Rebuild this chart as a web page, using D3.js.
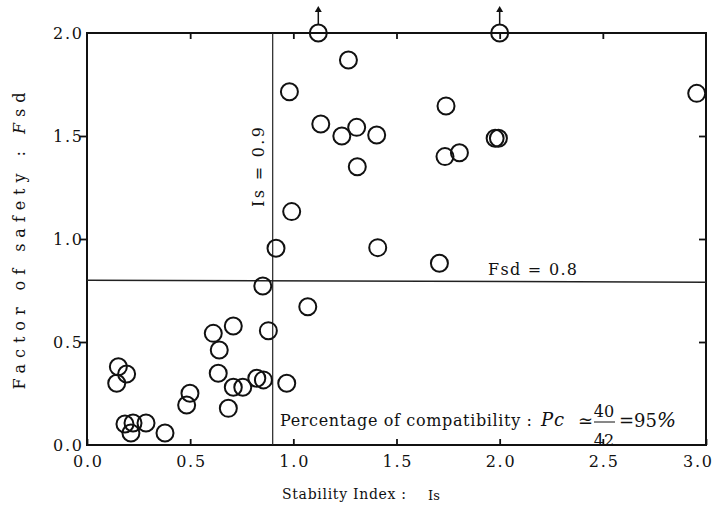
<!DOCTYPE html>
<html><head><meta charset="utf-8">
<script src="https://cdn.jsdelivr.net/npm/d3@7/dist/d3.min.js"></script>
<style>
html,body{margin:0;padding:0;background:#fff;}
svg{display:block;}
text{font-family:"DejaVu Serif","Liberation Serif",serif;fill:#111;}
</style></head>
<body>
<svg id="chart" width="717" height="507"></svg>
<script>
// Stability index Is (x) and factor of safety Fsd (y) for 42 cases
const isValues = [0.152,0.192,0.144,0.499,0.483,0.184,0.223,0.213,0.286,0.378,
  0.612,0.709,0.641,0.879,0.636,0.709,0.755,0.823,0.855,0.968,0.685,
  0.992,0.916,1.409,0.852,1.070,
  1.121,1.267,0.981,1.133,1.235,1.307,1.404,1.310,
  1.740,1.735,1.805,1.978,1.994,2.000,2.955,1.708];
const fsdValues = [0.380,0.345,0.300,0.251,0.194,0.102,0.107,0.058,0.107,0.058,
  0.542,0.578,0.461,0.555,0.348,0.280,0.280,0.324,0.316,0.300,0.178,
  1.133,0.955,0.958,0.772,0.671,
  2.000,1.869,1.715,1.558,1.500,1.542,1.505,1.351,
  1.646,1.400,1.419,1.489,1.489,2.000,1.707,0.882];
// points off the scale (value above 2.0, drawn with arrow)
const offScale = [false,false,false,false,false,false,false,false,false,false,
  false,false,false,false,false,false,false,false,false,false,false,
  false,false,false,false,false,
  true,false,false,false,false,false,false,false,
  false,false,false,false,false,true,false,false];
const xTicks = [0.0,0.5,1.0,1.5,2.0,2.5,3.0];
const yTicks = [0.0,0.5,1.0,1.5,2.0];
const isThreshold = 0.9;
const fsdThreshold = 0.8;

const svg = d3.select("#chart");
const x = d3.scaleLinear().domain([0,3]).range([87,706]);
const y = d3.scaleLinear().domain([0,2]).range([445,33]);
const fmt = d3.format(".1f");

// bottom axis: inward ticks + labels
const gB = svg.append("g").attr("transform",`translate(0,${y(0)})`)
  .call(d3.axisBottom(x).tickValues(xTicks).tickFormat(fmt).tickSizeInner(-6).tickSizeOuter(0).tickPadding(11));
// top axis: inward ticks, no labels
const gT = svg.append("g").attr("transform",`translate(0,${y(2)})`)
  .call(d3.axisTop(x).tickValues(xTicks.slice(1,-1)).tickFormat("").tickSizeInner(-6).tickSizeOuter(0));
// left axis: outward ticks + labels
const gL = svg.append("g").attr("transform",`translate(${x(0)},0)`)
  .call(d3.axisLeft(y).tickValues(yTicks).tickFormat(fmt).tickSizeOuter(0).tickSizeInner(0).tickPadding(5));
gL.selectAll(".tick").filter(d=>d>0&&d<2).append("line").attr("x2",-7).attr("stroke","#111").attr("stroke-width",2);
// right axis: inward ticks
const gR = svg.append("g").attr("transform",`translate(${x(3)},0)`)
  .call(d3.axisRight(y).tickValues(yTicks.slice(1,-1)).tickFormat("").tickSizeInner(-7).tickSizeOuter(0));

[gB,gT,gL,gR].forEach(g=>{
  g.select(".domain").remove();
  g.selectAll(".tick line").attr("stroke","#111").attr("stroke-width",1.8);
  g.selectAll(".tick text").attr("font-size",16).attr("textLength",29).attr("lengthAdjust","spacing").attr("fill","#111");
});
gL.selectAll(".tick text").attr("dy","0.35em");
gB.selectAll(".tick text").filter(d=>d===3).attr("dx",-9);

// frame
svg.append("rect").attr("x",x(0)).attr("y",y(2)).attr("width",x(3)-x(0)).attr("height",y(0)-y(2))
  .attr("fill","none").attr("stroke","#111").attr("stroke-width",2);

// threshold lines
svg.append("line").attr("x1",x(isThreshold)).attr("x2",x(isThreshold)).attr("y1",y(2)).attr("y2",y(0))
  .attr("stroke","#222").attr("stroke-width",1.2);
svg.append("line").attr("x1",x(0)).attr("x2",x(3)).attr("y1",y(fsdThreshold)).attr("y2",y(fsdThreshold)+2)
  .attr("stroke","#222").attr("stroke-width",1.4);

// points
const pts = isValues.map((v,i)=>({x:v,y:fsdValues[i],off:offScale[i]}));
svg.append("g").selectAll("circle").data(pts).join("circle")
  .attr("cx",d=>x(d.x)).attr("cy",d=>y(d.y)).attr("r",8.5)
  .attr("fill","none").attr("stroke","#111").attr("stroke-width",2);

// arrows for off-scale points
const arr = svg.append("g");
pts.filter(d=>d.off).forEach(d=>{
  const cx = x(d.x), cy = y(d.y);
  arr.append("line").attr("x1",cx).attr("x2",cx).attr("y1",cy-8.5).attr("y2",cy-24)
    .attr("stroke","#111").attr("stroke-width",1.5);
  arr.append("path").attr("d",`M${cx-3.5},${cy-21} L${cx},${cy-27} L${cx+3.5},${cy-21} Z`).attr("fill","#111");
});

// threshold labels
svg.append("text").attr("transform",`translate(${x(isThreshold)-9},${167}) rotate(-90)`)
  .attr("text-anchor","middle").attr("font-size",16).attr("textLength",80).attr("lengthAdjust","spacing").text("Is = 0.9");
svg.append("text").attr("x",488).attr("y",y(fsdThreshold)-5)
  .attr("font-size",16).attr("textLength",89).attr("lengthAdjust","spacing").text("Fsd = 0.8");

// y axis title
const yl = svg.append("text").attr("transform","translate(25,241) rotate(-90)")
  .attr("text-anchor","middle").attr("font-size",16).attr("textLength",297).attr("lengthAdjust","spacing");
yl.append("tspan").text("Factor of safety : ");
yl.append("tspan").attr("font-style","italic").text("F");
yl.append("tspan").text("sd");

// x axis title
svg.append("text").attr("x",282).attr("y",499).attr("font-size",14).attr("textLength",124).attr("lengthAdjust","spacing").text("Stability Index :");
svg.append("text").attr("x",428).attr("y",500).attr("font-size",13).text("Is");

// compatibility annotation
svg.append("text").attr("x",280).attr("y",426).attr("font-size",16).attr("textLength",252).attr("lengthAdjust","spacing")
  .text("Percentage of compatibility :");
svg.append("text").attr("x",541).attr("y",426).attr("font-size",18).attr("font-style","italic").attr("letter-spacing","1px").text("Pc");
svg.append("text").attr("x",578).attr("y",427).attr("font-size",18).text("≃");
svg.append("text").attr("x",604).attr("y",417).attr("text-anchor","middle").attr("font-size",16).text("40");
svg.append("line").attr("x1",594).attr("x2",615).attr("y1",422).attr("y2",422).attr("stroke","#111").attr("stroke-width",1);
svg.append("text").attr("x",604).attr("y",446).attr("text-anchor","middle").attr("font-size",16).text("42");
const pcT = svg.append("text").attr("x",619).attr("y",427).attr("font-size",18);
pcT.append("tspan").text("=95");
pcT.append("tspan").attr("font-style","italic").attr("font-size",20).text("%");
</script>
</body></html>
